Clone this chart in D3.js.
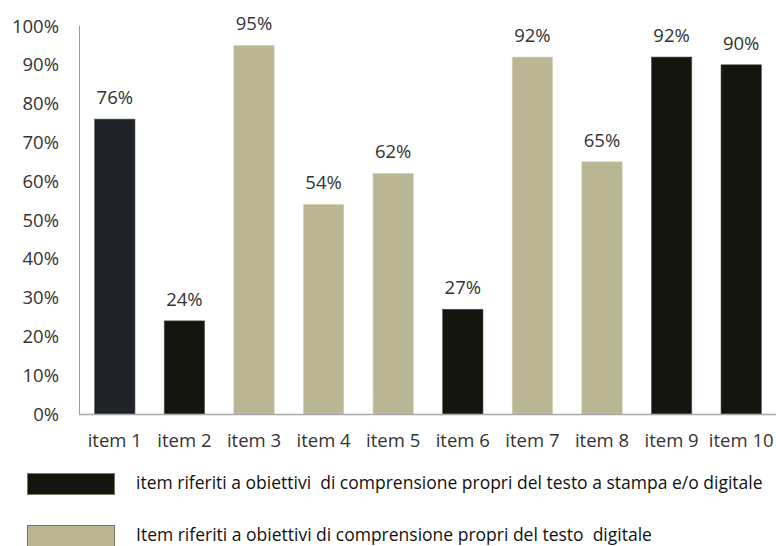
<!DOCTYPE html>
<html>
<head>
<meta charset="utf-8">
<script src="https://cdn.jsdelivr.net/npm/d3@7/dist/d3.min.js"></script>
<style>
  body { margin: 0; background: #fff; }
  text { font-family: "Open Sans", "Liberation Sans", sans-serif; }
</style>
</head>
<body>
<div id="chart"></div>
<script>
var categories = ["item 1","item 2","item 3","item 4","item 5","item 6","item 7","item 8","item 9","item 10"];
var values = [76, 24, 95, 54, 62, 27, 92, 65, 92, 90];
var groups = ["a","a","b","b","b","a","b","b","a","a"];
var yTicks = [0,10,20,30,40,50,60,70,80,90,100];
var legendLabels = [
  "item riferiti a obiettivi  di comprensione propri del testo a stampa e/o digitale",
  "Item riferiti a obiettivi di comprensione propri del testo  digitale"
];

var width = 776, height = 546;
var margin = {top: 26, left: 80, right: 0, bottom: 132};

var svg = d3.select("#chart").append("svg").attr("width", width).attr("height", height);

var x = d3.scaleBand().domain(categories).range([margin.left, width - margin.right]).paddingInner(0.42).paddingOuter(0.21);
var y = d3.scaleLinear().domain([0, 100]).range([height - margin.bottom, margin.top]);

var fill = {a: "#15150f", b: "#bab693"};
var stroke = {a: "#55554a", b: "#d6d3b8"};

// y axis
svg.append("line").attr("x1", 79.5).attr("x2", 79.5).attr("y1", y(100)).attr("y2", y(0)).attr("stroke", "#9a9a9a");
svg.selectAll(".ytick").data(yTicks).enter().append("text")
  .attr("x", 59).attr("y", function(d){ return y(d) + 6.5; })
  .attr("text-anchor", "end").attr("font-size", 18.5).attr("fill", "#333")
  .text(function(d){ return d + "%"; });

// bars
svg.selectAll(".bar").data(values).enter().append("rect")
  .attr("x", function(d, i){ return x(categories[i]); })
  .attr("y", function(d){ return y(d); })
  .attr("width", x.bandwidth())
  .attr("height", function(d){ return y(0) - y(d); })
  .attr("fill", function(d, i){ return i === 0 ? "#1f2327" : fill[groups[i]]; })
  .attr("stroke", function(d, i){ return stroke[groups[i]]; })
  .attr("stroke-width", 0.6);

// value labels
svg.selectAll(".val").data(values).enter().append("text")
  .attr("x", function(d, i){ return x(categories[i]) + x.bandwidth() / 2; })
  .attr("y", function(d){ return y(d) - 15; })
  .attr("text-anchor", "middle").attr("font-size", 18.5).attr("fill", "#333")
  .text(function(d){ return d + "%"; });

// baseline
svg.append("line").attr("x1", 79).attr("x2", width).attr("y1", y(0) + 0.5).attr("y2", y(0) + 0.5).attr("stroke", "#a8a8a8").attr("stroke-width", 1.5);

// x labels
svg.selectAll(".xl").data(categories).enter().append("text")
  .attr("x", function(d){ return x(d) + x.bandwidth() / 2; })
  .attr("y", 447)
  .attr("text-anchor", "middle").attr("font-size", 18.5).attr("fill", "#333")
  .text(function(d){ return d; });

// legend
var lg = svg.selectAll(".lg").data(legendLabels).enter().append("g")
  .attr("transform", function(d, i){ return "translate(0," + (473 + i * 52) + ")"; });
lg.append("rect").attr("x", 27.5).attr("y", 0.5).attr("width", 87).attr("height", 21)
  .attr("fill", function(d, i){ return i === 0 ? fill.a : fill.b; })
  .attr("stroke", "#77765a").attr("stroke-width", 1);
lg.append("text").attr("x", 136).attr("y", 16).attr("font-size", 17.5).attr("fill", "#111")
  .style("white-space", "pre").attr("xml:space", "preserve")
  .text(function(d){ return d; });
</script>
</body>
</html>
